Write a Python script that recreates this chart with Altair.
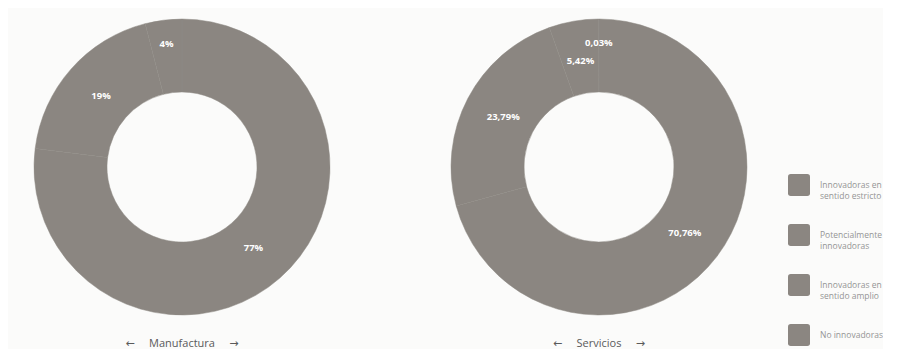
import altair as alt
import pandas as pd

categories = [
    "No innovadoras",
    "Innovadoras en sentido amplio",
    "Potencialmente innovadoras",
    "Innovadoras en sentido estricto",
]
legend_order = [
    "Innovadoras en sentido estricto",
    "Potencialmente innovadoras",
    "Innovadoras en sentido amplio",
    "No innovadoras",
]
sectors = ["Manufactura", "Servicios"]
manufactura_values = [77, 19, 4]
servicios_values = [70.76, 23.79, 5.42, 0.03]

rows = []
for i, v in enumerate(manufactura_values):
    rows.append({"sector": sectors[0], "categoria": categories[i], "valor": v, "orden": i})
for i, v in enumerate(servicios_values):
    rows.append({"sector": sectors[1], "categoria": categories[i], "valor": v, "orden": i})
df = pd.DataFrame(rows)

GRAY = "#8b8681"
rounded = "M -0.75,-1 L 0.75,-1 Q 1,-1 1,-0.75 L 1,0.75 Q 1,1 0.75,1 L -0.75,1 Q -1,1 -1,0.75 L -1,-0.75 Q -1,-1 -0.75,-1 Z"

arcs = alt.Chart().mark_arc(
    innerRadius=75, outerRadius=148, stroke="#8f8a85", strokeWidth=0.5
).encode(
    theta=alt.Theta("valor:Q", stack=True),
    order=alt.Order("orden:Q"),
    color=alt.Color(
        "categoria:N",
        sort=legend_order,
        scale=alt.Scale(domain=legend_order, range=[GRAY, GRAY, GRAY, GRAY]),
        legend=alt.Legend(
            title=None,
            orient="none",
            legendX=780,
            legendY=166,
            symbolType=rounded,
            symbolSize=484,
            symbolStrokeWidth=0,
            symbolOpacity=1,
            rowPadding=24,
            labelOffset=10,
            labelFont="Open Sans",
            labelFontSize=8.5,
            labelColor="#959595",
            labelLimit=200,
            labelExpr="datum.label == 'Innovadoras en sentido estricto' ? ['Innovadoras en', 'sentido estricto'] : datum.label == 'Potencialmente innovadoras' ? ['Potencialmente', 'innovadoras'] : datum.label == 'Innovadoras en sentido amplio' ? ['Innovadoras en', 'sentido amplio'] : datum.label",
        ),
    ),
)

labels = alt.Chart().mark_text(
    font="Open Sans", fontSize=9.5, fontWeight="bold", color="white"
).encode(
    theta=alt.Theta("medio:Q", stack=None, scale=alt.Scale(domain=[0, 100])),
    radius=alt.Radius("r:Q", scale=None),
    text="etiqueta:N",
)

chart = alt.layer(arcs, labels).properties(
    width=348, height=318
).facet(
    column=alt.Column(
        "titulo:N",
        title=None,
        header=alt.Header(
            labelOrient="bottom",
            labelFont="Open Sans, DejaVu Sans",
            labelFontSize=11,
            labelColor="#5a5a5a",
            labelPadding=12,
        ),
    ),
    spacing=69,
    data=df,
).transform_window(
    acumulado="sum(valor)",
    groupby=["sector"],
    sort=[alt.SortField("orden")],
).transform_calculate(
    titulo="'←\u00a0\u00a0\u00a0\u00a0\u00a0' + datum.sector + '\u00a0\u00a0\u00a0\u00a0\u00a0→'",
    medio="datum.acumulado - datum.valor / 2",
    etiqueta="replace(toString(datum.valor), '.', ',') + '%'",
    r="datum.valor < 5 ? 124 : 108",
).configure(
    background="#fbfbfa",
    padding=0,
).configure_view(
    stroke=None
)

chart.save("out.html", embed_options={"renderer": "svg", "actions": False})
